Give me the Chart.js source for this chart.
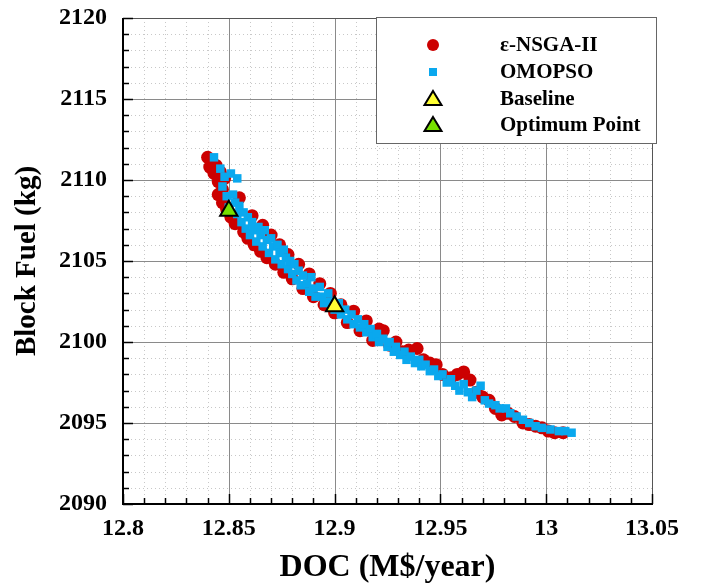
<!DOCTYPE html>
<html>
<head>
<meta charset="utf-8">
<script src="https://cdn.jsdelivr.net/npm/chart.js@4.4.1/dist/chart.umd.min.js"></script>
<style>
  html, body { margin: 0; padding: 0; background: #fff; }
</style>
</head>
<body>
<canvas id="chart" width="714" height="587"></canvas>
<script>
// axis ticks
const xTicks = [12.8, 12.85, 12.9, 12.95, 13, 13.05];
const xTickLabels = ["12.8", "12.85", "12.9", "12.95", "13", "13.05"];
const yTicks = [2090, 2095, 2100, 2105, 2110, 2115, 2120];
const yTickLabels = ["2090", "2095", "2100", "2105", "2110", "2115", "2120"];

// e-NSGA-II front (DOC M$/year, block fuel kg)
const nsgaDoc = [
  12.840, 12.841, 12.842, 12.843, 12.844, 12.845, 12.846, 12.847, 12.848, 12.845,
  12.847, 12.849, 12.851, 12.853, 12.855, 12.857, 12.859, 12.861, 12.862, 12.865,
  12.866, 12.868, 12.870, 12.872, 12.874, 12.876, 12.878, 12.880, 12.883, 12.885,
  12.888, 12.890, 12.893, 12.895, 12.898, 12.900, 12.903, 12.906, 12.909, 12.912,
  12.915, 12.918, 12.921, 12.923, 12.926, 12.929, 12.932, 12.935, 12.939, 12.942,
  12.945, 12.948, 12.951, 12.955, 12.958, 12.961, 12.964, 12.967, 12.970, 12.973,
  12.976, 12.979, 12.982, 12.985, 12.989, 12.992, 12.995, 12.998, 13.001, 13.004,
  13.008
];
const nsgaFuel = [
  2111.4, 2110.8, 2111.1, 2110.4, 2110.9, 2109.9, 2110.5, 2109.4, 2110.1, 2109.1,
  2108.6, 2108.2, 2107.7, 2107.3, 2108.9, 2106.8, 2106.4, 2107.8, 2106.0, 2105.6,
  2107.2, 2105.2, 2106.6, 2104.8, 2106.0, 2104.3, 2105.4, 2103.9, 2104.8, 2103.3,
  2104.2, 2102.8, 2103.6, 2102.3, 2103.0, 2101.8, 2102.3, 2101.2, 2101.9, 2100.7,
  2101.3, 2100.1, 2100.8, 2100.7, 2099.8, 2100.0, 2099.4, 2099.5, 2099.6, 2098.9,
  2098.7, 2098.6, 2098.0, 2097.8, 2098.0, 2098.15, 2097.65, 2096.9, 2096.6, 2096.4,
  2095.9, 2095.5, 2095.6, 2095.4, 2095.0, 2094.9, 2094.8, 2094.7, 2094.5, 2094.4,
  2094.4
];

// OMOPSO front
const omopsoDoc = [
  12.843, 12.846, 12.848, 12.851, 12.854, 12.847, 12.849, 12.850, 12.852, 12.853,
  12.854, 12.855, 12.856, 12.857, 12.858, 12.859, 12.860, 12.861, 12.862, 12.863,
  12.864, 12.865, 12.866, 12.867, 12.868, 12.869, 12.870, 12.871, 12.872, 12.873,
  12.874, 12.875, 12.876, 12.877, 12.878, 12.879, 12.880, 12.881, 12.882, 12.883,
  12.884, 12.885, 12.887, 12.888, 12.889, 12.890, 12.891, 12.893, 12.894, 12.895,
  12.897, 12.898, 12.900, 12.902, 12.903, 12.905, 12.906, 12.908, 12.909, 12.911,
  12.912, 12.914, 12.915, 12.917, 12.918, 12.920, 12.921, 12.923, 12.925, 12.926,
  12.928, 12.929, 12.931, 12.933, 12.934, 12.936, 12.938, 12.940, 12.941, 12.943,
  12.945, 12.947, 12.949, 12.951, 12.953, 12.955, 12.957, 12.959, 12.961, 12.963,
  12.965, 12.967, 12.969, 12.971, 12.973, 12.976, 12.978, 12.981, 12.983, 12.986,
  12.989, 12.992, 12.995, 12.998, 13.002, 13.006, 13.009, 13.012
];
const omopsoFuel = [
  2111.4, 2110.7, 2110.2, 2110.4, 2110.1, 2109.6, 2109.0, 2108.3, 2109.1, 2108.6,
  2107.9, 2108.4, 2107.4, 2108.0, 2107.0, 2107.7, 2106.6, 2107.4, 2106.9, 2106.2,
  2107.1, 2106.6, 2105.9, 2106.9, 2106.3, 2105.5, 2106.4, 2105.9, 2105.1, 2106.0,
  2105.5, 2104.8, 2105.7, 2105.2, 2104.5, 2105.0, 2104.2, 2104.8, 2103.8, 2104.4,
  2103.5, 2104.1, 2103.6, 2103.1, 2104.0, 2103.3, 2102.8, 2103.4, 2102.8, 2102.4,
  2103.0, 2102.5, 2102.0, 2102.4, 2101.7, 2102.0, 2101.4, 2101.7, 2101.1, 2101.4,
  2100.9, 2101.1, 2100.6, 2100.8, 2100.3, 2100.5, 2100.0, 2100.2, 2099.7, 2100.0,
  2099.4, 2099.7, 2099.2, 2099.4, 2098.9, 2099.1, 2098.7, 2098.9, 2098.5, 2098.6,
  2098.2, 2098.3, 2097.9, 2098.0, 2097.5, 2097.7, 2097.3, 2097.0, 2097.4, 2096.9,
  2096.6, 2097.0, 2097.3, 2096.4, 2096.2, 2096.1, 2095.9, 2095.9, 2095.6, 2095.4,
  2095.2, 2095.0, 2094.8, 2094.7, 2094.6, 2094.5, 2094.5, 2094.4
];

const baselineDoc = [12.90];
const baselineFuel = [2102.2];
const optimumDoc = [12.85];
const optimumFuel = [2108.1];

const seriesNames = ["\u03b5-NSGA-II", "OMOPSO", "Baseline", "Optimum Point"];
const RED = "#cc0000";
const BLUE = "#0aa8ee";
const YELLOW = "#ffff33";
const GREEN = "#77e000";
const FONT = "'Liberation Serif', 'Times New Roman', serif";

const toPoints = (xs, ys) => xs.map((x, i) => ({ x: x, y: ys[i] }));

// grid, frame, inward ticks and the boxed legend
const framePlugin = {
  id: "frame",
  beforeDatasetsDraw(chart) {
    const { ctx, chartArea: a, scales } = chart;
    const xs = scales.x, ys = scales.y;
    ctx.save();
    // minor grid, dotted
    ctx.strokeStyle = "#c8c8c8";
    ctx.lineWidth = 1;
    ctx.setLineDash([1, 3]);
    for (let i = 0; i <= 25; i++) {
      if (i % 5 === 0) continue;
      const px = Math.round(xs.getPixelForValue(12.8 + i * 0.01)) + 0.5;
      ctx.beginPath(); ctx.moveTo(px, a.top); ctx.lineTo(px, a.bottom); ctx.stroke();
    }
    for (let v = 2090; v <= 2120; v++) {
      if (v % 5 === 0) continue;
      const py = Math.round(ys.getPixelForValue(v)) + 0.5;
      ctx.beginPath(); ctx.moveTo(a.left, py); ctx.lineTo(a.right, py); ctx.stroke();
    }
    // major grid
    ctx.setLineDash([]);
    ctx.strokeStyle = "#8a8a8a";
    xTicks.forEach((v) => {
      const px = Math.round(xs.getPixelForValue(v)) + 0.5;
      ctx.beginPath(); ctx.moveTo(px, a.top); ctx.lineTo(px, a.bottom); ctx.stroke();
    });
    yTicks.forEach((v) => {
      const py = Math.round(ys.getPixelForValue(v)) + 0.5;
      ctx.beginPath(); ctx.moveTo(a.left, py); ctx.lineTo(a.right, py); ctx.stroke();
    });
    ctx.restore();
  },
  afterDatasetsDraw(chart) {
    const { ctx, chartArea: a, scales } = chart;
    const xs = scales.x, ys = scales.y;
    ctx.save();
    // outer frame
    ctx.strokeStyle = "#555";
    ctx.lineWidth = 1;
    ctx.strokeRect(a.left + 0.5, a.top + 0.5, a.right - a.left, a.bottom - a.top);
    // main axes
    ctx.strokeStyle = "#000";
    ctx.lineWidth = 2;
    ctx.beginPath();
    ctx.moveTo(a.left, a.top);
    ctx.lineTo(a.left, a.bottom);
    ctx.lineTo(a.right + 1, a.bottom);
    ctx.stroke();
    // inward ticks
    ctx.lineWidth = 1.5;
    for (let i = 0; i <= 25; i++) {
      const len = i % 5 === 0 ? 10 : 6;
      const px = Math.round(xs.getPixelForValue(12.8 + i * 0.01)) + 0.5;
      ctx.beginPath(); ctx.moveTo(px, a.bottom); ctx.lineTo(px, a.bottom - len); ctx.stroke();
    }
    for (let v = 2090; v <= 2120; v++) {
      const len = v % 5 === 0 ? 10 : 6;
      const py = Math.round(ys.getPixelForValue(v)) + 0.5;
      ctx.beginPath(); ctx.moveTo(a.left, py); ctx.lineTo(a.left + len, py); ctx.stroke();
    }

    // legend box
    const bx = 376, by = a.top - 1, bw = 280, bh = 126;
    ctx.fillStyle = "#fff";
    ctx.fillRect(bx, by, bw, bh);
    ctx.strokeStyle = "#666";
    ctx.lineWidth = 1;
    ctx.strokeRect(bx + 0.5, by + 0.5, bw, bh);

    const mx = 433, tx = 500;
    const rows = [a.top + 27, a.top + 54, a.top + 81, a.top + 107];
    // circle
    ctx.fillStyle = RED;
    ctx.beginPath(); ctx.arc(mx, rows[0], 6, 0, Math.PI * 2); ctx.fill();
    // square
    ctx.fillStyle = BLUE;
    ctx.fillRect(mx - 4, rows[1] - 4, 8, 8);
    // triangles
    [[rows[2], YELLOW], [rows[3], GREEN]].forEach(([ty, col]) => {
      ctx.beginPath();
      ctx.moveTo(mx, ty - 8);
      ctx.lineTo(mx + 8.5, ty + 6);
      ctx.lineTo(mx - 8.5, ty + 6);
      ctx.closePath();
      ctx.fillStyle = col;
      ctx.fill();
      ctx.strokeStyle = "#000";
      ctx.lineWidth = 2;
      ctx.stroke();
    });
    ctx.fillStyle = "#000";
    ctx.font = "bold 21px " + FONT;
    ctx.textAlign = "left";
    ctx.textBaseline = "middle";
    seriesNames.forEach((name, i) => ctx.fillText(name, tx, rows[i] + 1));
    ctx.restore();
  },
};

const ctx = document.getElementById("chart").getContext("2d");
new Chart(ctx, {
  type: "scatter",
  data: {
    datasets: [
      {
        label: seriesNames[0],
        data: toPoints(nsgaDoc, nsgaFuel),
        order: 3,
        pointStyle: "circle",
        pointRadius: 6.5,
        borderWidth: 0,
        backgroundColor: RED,
      },
      {
        label: seriesNames[1],
        data: toPoints(omopsoDoc, omopsoFuel),
        order: 2,
        pointStyle: "rect",
        pointRadius: 6,
        borderWidth: 0,
        backgroundColor: BLUE,
      },
      {
        label: seriesNames[2],
        data: toPoints(baselineDoc, baselineFuel),
        order: 1,
        pointStyle: "triangle",
        pointRadius: 10,
        borderWidth: 2,
        borderColor: "#000",
        backgroundColor: YELLOW,
      },
      {
        label: seriesNames[3],
        data: toPoints(optimumDoc, optimumFuel),
        order: 0,
        pointStyle: "triangle",
        pointRadius: 10,
        borderWidth: 2,
        borderColor: "#000",
        backgroundColor: GREEN,
      },
    ],
  },
  options: {
    responsive: false,
    animation: false,
    layout: { padding: { top: 18, right: 62, left: 0, bottom: 0 } },
    plugins: {
      legend: { display: false },
      tooltip: { enabled: false },
    },
    scales: {
      x: {
        type: "linear",
        min: 12.8,
        max: 13.05,
        afterBuildTicks: (scale) => { scale.ticks = xTicks.map((v) => ({ value: v })); },
        afterFit: (scale) => { scale.height = 83; },
        grid: { display: false },
        border: { display: false },
        ticks: {
          color: "#000",
          padding: 2,
          maxRotation: 0,
          autoSkip: false,
          font: { family: FONT, size: 24, weight: "bold" },
          callback: (v, i) => xTickLabels[i],
        },
        title: {
          display: true,
          text: "DOC (M$/year)",
          color: "#000",
          padding: { top: 0, bottom: 0 },
          font: { family: FONT, size: 32, weight: "bold" },
        },
      },
      y: {
        type: "linear",
        min: 2090,
        max: 2120,
        afterBuildTicks: (scale) => { scale.ticks = yTicks.map((v) => ({ value: v })); },
        afterFit: (scale) => {
          scale.width = 123;
          scale.paddingTop = 0;
          scale.paddingBottom = 0;
        },
        grid: { display: false },
        border: { display: false },
        ticks: {
          color: "#000",
          padding: 8,
          autoSkip: false,
          font: { family: FONT, size: 24, weight: "bold" },
          callback: (v, i) => yTickLabels[i],
        },
        title: {
          display: true,
          text: "Block Fuel (kg)",
          color: "#000",
          padding: { top: 10, bottom: 0 },
          font: { family: FONT, size: 29, weight: "bold" },
        },
      },
    },
  },
  plugins: [framePlugin],
});
</script>
</body>
</html>
